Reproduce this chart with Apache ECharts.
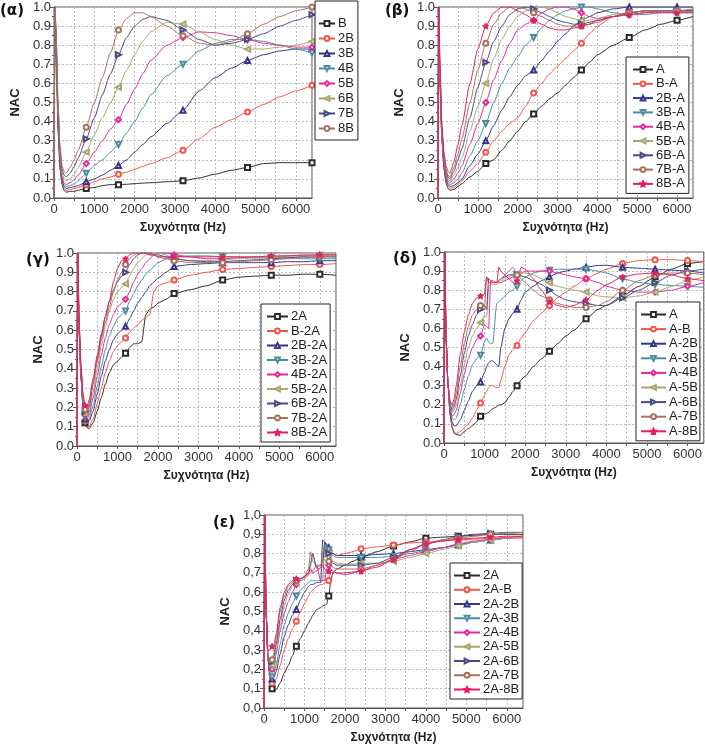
<!DOCTYPE html>
<html><head><meta charset="utf-8">
<script src="https://cdn.jsdelivr.net/npm/echarts@6/dist/echarts.min.js"></script>
<style>html,body{margin:0;padding:0;background:#fff}#c{width:705px;height:747px}</style>
</head><body><div id="c"></div><script>
// ---------- Panel (α) ----------
const freqA = [0,25,60,100,150,200,250,300,400,500,600,800,1000,1200,1400,1600,1800,2000,2200,2400,2800,3200,3600,4000,4400,4800,5200,5600,6000,6400];
const markA = [800,1600,3200,4800,6400];
const namesA = ['B','2B','3B','4B','5B','6B','7B','8B'];
const a_B  = [0,0.98,0.7,0.35,0.15,0.07,0.04,0.03,0.035,0.035,0.04,0.05,0.055,0.065,0.07,0.07,0.072,0.075,0.078,0.08,0.085,0.09,0.105,0.125,0.145,0.16,0.18,0.185,0.185,0.185];
const a_2B = [0,1.0,0.72,0.38,0.17,0.08,0.05,0.04,0.045,0.05,0.055,0.07,0.085,0.1,0.11,0.125,0.135,0.15,0.165,0.18,0.21,0.25,0.31,0.37,0.41,0.45,0.49,0.53,0.56,0.59];
const a_3B = [0,1.0,0.74,0.4,0.18,0.09,0.06,0.05,0.055,0.06,0.065,0.085,0.1,0.12,0.145,0.17,0.2,0.24,0.28,0.32,0.39,0.46,0.56,0.63,0.68,0.72,0.75,0.77,0.78,0.78];
const a_4B = [0,1.0,0.75,0.42,0.2,0.1,0.07,0.06,0.065,0.075,0.09,0.13,0.17,0.2,0.24,0.28,0.34,0.4,0.47,0.54,0.64,0.70,0.77,0.81,0.83,0.83,0.82,0.8,0.78,0.76];
const a_5B = [0,1.0,0.76,0.44,0.21,0.11,0.08,0.07,0.08,0.095,0.12,0.18,0.24,0.3,0.36,0.41,0.49,0.57,0.65,0.72,0.8,0.84,0.87,0.865,0.85,0.83,0.81,0.8,0.79,0.79];
const a_6B = [0,1.0,0.78,0.46,0.23,0.13,0.1,0.09,0.1,0.125,0.16,0.24,0.33,0.42,0.5,0.58,0.67,0.75,0.82,0.87,0.92,0.91,0.87,0.83,0.8,0.78,0.78,0.79,0.8,0.82];
const a_7B = [0,1.0,0.8,0.48,0.25,0.15,0.12,0.11,0.13,0.165,0.21,0.31,0.42,0.54,0.65,0.75,0.84,0.9,0.935,0.95,0.93,0.88,0.83,0.8,0.81,0.83,0.86,0.9,0.93,0.96];
const a_8B = [0,1.0,0.82,0.5,0.27,0.17,0.14,0.13,0.16,0.2,0.25,0.37,0.5,0.63,0.76,0.88,0.94,0.97,0.97,0.95,0.9,0.85,0.81,0.8,0.82,0.86,0.91,0.95,0.98,1.0];

// ---------- Panel (β) ----------
const freqB = [0,20,50,100,150,200,250,300,400,500,600,800,1000,1200,1400,1600,1800,2000,2200,2400,2600,2800,3000,3200,3400,3600,3800,4000,4400,4800,5200,5600,6000,6400];
const markB = [1200,2400,3600,4800,6000];
const namesB = ['A','B-A','2B-A','3B-A','4B-A','5B-A','6B-A','7B-A','8B-A'];
const b_A   = [0,0.95,0.6,0.3,0.15,0.08,0.05,0.04,0.045,0.06,0.075,0.11,0.14,0.18,0.2,0.25,0.3,0.35,0.4,0.44,0.48,0.52,0.55,0.59,0.63,0.67,0.71,0.75,0.8,0.84,0.88,0.91,0.93,0.95];
const b_BA  = [0,1.0,0.6,0.3,0.16,0.09,0.06,0.05,0.055,0.07,0.09,0.14,0.18,0.24,0.3,0.35,0.39,0.42,0.48,0.55,0.6,0.65,0.69,0.73,0.77,0.81,0.86,0.9,0.95,0.97,0.98,0.98,0.98,0.98];
const b_2BA = [0,1.0,0.6,0.3,0.17,0.1,0.07,0.06,0.065,0.08,0.1,0.17,0.23,0.3,0.38,0.46,0.53,0.59,0.64,0.67,0.72,0.77,0.82,0.86,0.9,0.93,0.95,0.97,0.99,1.0,1.0,1.0,1.0,1.0];
const b_3BA = [0,1.0,0.6,0.3,0.18,0.11,0.08,0.07,0.08,0.1,0.13,0.22,0.3,0.39,0.5,0.6,0.68,0.74,0.8,0.84,0.89,0.93,0.96,0.98,0.99,1.0,1.0,0.99,0.97,0.96,0.96,0.97,0.97,0.97];
const b_4BA = [0,1.0,0.62,0.32,0.19,0.12,0.09,0.08,0.1,0.13,0.17,0.28,0.39,0.5,0.62,0.72,0.81,0.88,0.91,0.93,0.97,0.99,1.0,1.0,0.99,0.97,0.95,0.94,0.95,0.96,0.97,0.98,0.98,0.98];
const b_5BA = [0,1.0,0.62,0.32,0.2,0.13,0.1,0.09,0.12,0.16,0.21,0.35,0.48,0.6,0.73,0.83,0.9,0.95,0.98,0.99,1.0,0.99,0.97,0.95,0.94,0.93,0.93,0.94,0.96,0.97,0.98,0.98,0.98,0.98];
const b_6BA = [0,1.0,0.64,0.34,0.21,0.14,0.11,0.1,0.14,0.2,0.26,0.42,0.58,0.71,0.82,0.9,0.96,0.99,1.0,0.99,0.97,0.95,0.93,0.92,0.91,0.91,0.92,0.93,0.95,0.97,0.98,0.98,0.98,0.98];
const b_7BA = [0,1.0,0.66,0.36,0.22,0.15,0.12,0.11,0.16,0.23,0.31,0.5,0.67,0.81,0.91,0.97,1.0,1.0,0.99,0.97,0.95,0.93,0.91,0.9,0.9,0.9,0.91,0.92,0.95,0.97,0.98,0.98,0.98,0.99];
const b_8BA = [0,1.0,0.7,0.38,0.24,0.17,0.14,0.13,0.19,0.28,0.38,0.6,0.78,0.9,0.97,1.0,1.0,0.98,0.96,0.93,0.91,0.89,0.88,0.88,0.89,0.9,0.91,0.93,0.95,0.96,0.97,0.97,0.97,0.97];

// ---------- Panel (γ) ----------
const freqG = [0,20,50,100,150,200,250,300,400,500,600,700,800,900,1000,1100,1200,1300,1400,1500,1600,1700,1800,1900,2000,2200,2400,2800,3200,3600,4000,4400,4800,5200,5600,6000,6400];
const markG = [200,1200,2400,3600,4800,6000];
const namesG = ['2A','B-2A','2B-2A','3B-2A','4B-2A','5B-2A','6B-2A','7B-2A','8B-2A'];
const g_2A   = [0,0.98,0.6,0.35,0.2,0.12,0.095,0.09,0.12,0.18,0.25,0.32,0.38,0.42,0.44,0.46,0.48,0.51,0.53,0.53,0.54,0.68,0.71,0.72,0.74,0.76,0.79,0.81,0.83,0.86,0.875,0.88,0.885,0.885,0.89,0.89,0.885];
const g_B2A  = [0,1.0,0.6,0.35,0.2,0.13,0.1,0.1,0.14,0.22,0.3,0.38,0.44,0.49,0.52,0.54,0.56,0.59,0.61,0.63,0.65,0.67,0.68,0.8,0.83,0.845,0.86,0.885,0.9,0.915,0.92,0.925,0.93,0.935,0.94,0.94,0.945];
const g_2B2A = [0,1.0,0.6,0.35,0.2,0.14,0.12,0.13,0.18,0.27,0.36,0.44,0.5,0.55,0.58,0.6,0.62,0.66,0.7,0.74,0.77,0.8,0.83,0.85,0.87,0.9,0.93,0.94,0.945,0.95,0.95,0.95,0.95,0.955,0.955,0.96,0.96];
const g_3B2A = [0,1.0,0.62,0.36,0.21,0.15,0.13,0.14,0.21,0.31,0.41,0.5,0.57,0.62,0.66,0.68,0.7,0.75,0.79,0.83,0.86,0.89,0.91,0.93,0.95,0.97,0.98,0.985,0.985,0.98,0.98,0.975,0.975,0.975,0.97,0.97,0.97];
const g_4B2A = [0,1.0,0.62,0.37,0.22,0.16,0.14,0.16,0.25,0.36,0.47,0.56,0.63,0.68,0.72,0.74,0.76,0.8,0.85,0.89,0.92,0.95,0.97,0.99,1.0,1.0,0.99,0.98,0.97,0.97,0.975,0.98,0.98,0.985,0.985,0.99,0.99];
const g_5B2A = [0,1.0,0.63,0.38,0.23,0.17,0.15,0.18,0.28,0.4,0.52,0.62,0.7,0.76,0.8,0.82,0.84,0.88,0.92,0.95,0.97,0.99,1.0,1.0,1.0,0.99,0.97,0.96,0.96,0.965,0.97,0.975,0.98,0.985,0.985,0.99,0.99];
const g_6B2A = [0,1.0,0.64,0.39,0.24,0.18,0.16,0.2,0.32,0.45,0.57,0.67,0.75,0.81,0.85,0.88,0.9,0.94,0.97,0.99,1.0,1.0,1.0,0.99,0.99,0.98,0.97,0.96,0.955,0.955,0.96,0.965,0.97,0.975,0.98,0.98,0.98];
const g_7B2A = [0,1.0,0.65,0.4,0.25,0.19,0.18,0.22,0.33,0.44,0.55,0.64,0.72,0.8,0.86,0.9,0.94,0.97,0.99,1.0,1.0,1.0,0.99,0.99,0.98,0.97,0.96,0.95,0.95,0.95,0.955,0.96,0.965,0.97,0.975,0.98,0.98];
const g_8B2A = [0,1.0,0.66,0.42,0.27,0.21,0.2,0.24,0.35,0.47,0.58,0.67,0.75,0.85,0.92,0.96,0.97,0.99,1.0,1.0,1.0,1.0,0.99,0.99,0.98,0.98,0.98,0.98,0.98,0.98,0.98,0.98,0.985,0.985,0.99,0.99,0.99];

// ---------- Panel (δ) ----------
const freqD = [0,20,50,100,150,200,250,300,400,500,600,700,800,900,1000,1050,1100,1150,1200,1300,1350,1400,1500,1600,1700,1800,1900,2000,2200,2400,2600,2800,3000,3200,3500,3800,4000,4400,4800,5200,5600,6000,6400];
const markD = [900,1800,2600,3500,4400,5200,6000];
const namesD = ['A','A-B','A-2B','A-3B','A-4B','A-5B','A-6B','A-7B','A-8B'];
const d_A   = [0,0.95,0.55,0.3,0.15,0.08,0.05,0.045,0.04,0.06,0.075,0.09,0.11,0.14,0.15,0.155,0.16,0.17,0.18,0.19,0.2,0.2,0.21,0.24,0.27,0.3,0.33,0.35,0.4,0.44,0.48,0.52,0.56,0.59,0.65,0.7,0.72,0.77,0.82,0.87,0.91,0.94,0.95];
const d_AB  = [0,1.0,0.55,0.3,0.15,0.09,0.06,0.05,0.06,0.08,0.1,0.13,0.17,0.21,0.25,0.27,0.29,0.3,0.3,0.29,0.29,0.33,0.4,0.46,0.49,0.51,0.55,0.58,0.64,0.68,0.72,0.76,0.79,0.82,0.86,0.89,0.91,0.94,0.955,0.96,0.96,0.955,0.95];
const d_A2B = [0,1.0,0.55,0.3,0.16,0.11,0.09,0.09,0.12,0.17,0.22,0.27,0.3,0.32,0.37,0.4,0.42,0.43,0.43,0.41,0.4,0.5,0.6,0.65,0.68,0.7,0.75,0.79,0.82,0.85,0.87,0.89,0.9,0.91,0.92,0.93,0.93,0.92,0.915,0.91,0.905,0.9,0.89];
const d_A3B = [0,1.0,0.55,0.3,0.17,0.13,0.12,0.13,0.2,0.28,0.35,0.41,0.44,0.46,0.53,0.55,0.53,0.52,0.52,0.73,0.74,0.75,0.77,0.79,0.8,0.82,0.85,0.87,0.89,0.9,0.905,0.91,0.91,0.91,0.91,0.9,0.89,0.86,0.84,0.83,0.825,0.82,0.815];
const d_A4B = [0,1.0,0.55,0.3,0.18,0.14,0.15,0.17,0.26,0.36,0.44,0.5,0.54,0.56,0.62,0.61,0.6,0.85,0.85,0.84,0.84,0.84,0.85,0.86,0.87,0.88,0.89,0.9,0.9,0.9,0.9,0.89,0.88,0.87,0.86,0.84,0.82,0.8,0.79,0.79,0.8,0.82,0.84];
const d_A5B = [0,1.0,0.55,0.3,0.19,0.16,0.17,0.2,0.3,0.41,0.5,0.56,0.6,0.63,0.67,0.66,0.82,0.83,0.83,0.83,0.84,0.85,0.86,0.87,0.88,0.885,0.89,0.89,0.88,0.86,0.84,0.82,0.81,0.8,0.79,0.77,0.765,0.76,0.77,0.79,0.82,0.85,0.87];
const d_A6B = [0,1.0,0.55,0.3,0.2,0.17,0.19,0.23,0.35,0.47,0.56,0.62,0.67,0.7,0.72,0.7,0.86,0.85,0.84,0.84,0.85,0.86,0.87,0.88,0.88,0.88,0.875,0.87,0.85,0.83,0.8,0.77,0.75,0.74,0.73,0.72,0.72,0.76,0.8,0.84,0.88,0.9,0.91];
const d_A7B = [0,1.0,0.55,0.3,0.21,0.18,0.21,0.26,0.4,0.52,0.61,0.67,0.7,0.72,0.71,0.87,0.86,0.85,0.84,0.84,0.85,0.86,0.88,0.9,0.92,0.88,0.86,0.84,0.8,0.77,0.75,0.73,0.72,0.71,0.71,0.72,0.74,0.8,0.85,0.88,0.89,0.89,0.88];
const d_A8B = [0,1.0,0.55,0.3,0.22,0.2,0.23,0.3,0.46,0.58,0.67,0.73,0.76,0.77,0.78,0.87,0.84,0.84,0.84,0.84,0.92,0.9,0.88,0.86,0.84,0.85,0.92,0.91,0.86,0.8,0.74,0.72,0.71,0.72,0.75,0.8,0.83,0.87,0.885,0.89,0.88,0.86,0.85];

// ---------- Panel (ε) ----------
const freqE = [0,20,50,100,150,200,250,300,400,500,600,700,800,900,1000,1100,1150,1200,1300,1400,1450,1500,1550,1600,1650,1700,1800,2000,2200,2400,2800,3200,3600,4000,4400,4800,5200,5600,6000,6400];
const markE = [200,800,1600,2400,3200,4000,4800,5600];
const namesE = ['2A','2A-B','2A-2B','2A-3B','2A-4B','2A-5B','2A-6B','2A-7B','2A-8B'];
const e_2A   = [0,1.0,0.5,0.25,0.15,0.1,0.09,0.095,0.13,0.18,0.22,0.27,0.32,0.36,0.4,0.44,0.46,0.48,0.51,0.52,0.53,0.53,0.54,0.58,0.66,0.7,0.72,0.74,0.76,0.78,0.81,0.84,0.86,0.88,0.885,0.89,0.895,0.9,0.9,0.9];
const e_2AB  = [0,1.0,0.5,0.25,0.16,0.13,0.13,0.15,0.22,0.3,0.36,0.41,0.45,0.5,0.54,0.58,0.6,0.61,0.63,0.64,0.64,0.65,0.65,0.66,0.82,0.8,0.79,0.8,0.81,0.825,0.835,0.845,0.855,0.86,0.865,0.87,0.875,0.88,0.88,0.88];
const e_2A2B = [0,1.0,0.5,0.25,0.17,0.15,0.16,0.19,0.28,0.37,0.43,0.48,0.51,0.56,0.6,0.63,0.64,0.64,0.65,0.65,0.87,0.86,0.85,0.83,0.81,0.8,0.79,0.79,0.79,0.79,0.795,0.8,0.81,0.82,0.83,0.845,0.86,0.87,0.88,0.89];
const e_2A3B = [0,1.0,0.5,0.25,0.18,0.16,0.18,0.22,0.33,0.43,0.49,0.54,0.58,0.61,0.63,0.65,0.66,0.66,0.66,0.66,0.66,0.86,0.84,0.82,0.8,0.79,0.78,0.78,0.78,0.78,0.78,0.785,0.8,0.815,0.83,0.845,0.86,0.87,0.88,0.89];
const e_2A4B = [0,1.0,0.5,0.25,0.2,0.2,0.23,0.28,0.4,0.49,0.55,0.6,0.64,0.66,0.67,0.69,0.7,0.71,0.74,0.66,0.66,0.66,0.72,0.74,0.72,0.71,0.7,0.69,0.7,0.71,0.74,0.77,0.79,0.81,0.83,0.85,0.865,0.875,0.885,0.89];
const e_2A5B = [0,1.0,0.5,0.25,0.21,0.22,0.25,0.3,0.43,0.53,0.59,0.63,0.65,0.67,0.68,0.7,0.73,0.8,0.72,0.72,0.73,0.85,0.83,0.8,0.78,0.76,0.75,0.745,0.745,0.75,0.75,0.76,0.78,0.8,0.82,0.84,0.86,0.87,0.88,0.885];
const e_2A6B = [0,1.0,0.5,0.25,0.22,0.24,0.27,0.33,0.46,0.56,0.61,0.64,0.66,0.67,0.68,0.7,0.75,0.8,0.73,0.74,0.76,0.86,0.84,0.8,0.77,0.75,0.74,0.74,0.74,0.74,0.75,0.78,0.82,0.85,0.87,0.89,0.9,0.905,0.91,0.91];
const e_2A7B = [0,1.0,0.5,0.25,0.23,0.25,0.29,0.36,0.5,0.58,0.63,0.65,0.66,0.67,0.68,0.72,0.81,0.76,0.74,0.74,0.8,0.84,0.8,0.76,0.74,0.73,0.72,0.72,0.72,0.72,0.74,0.77,0.81,0.85,0.87,0.88,0.89,0.9,0.905,0.91];
const e_2A8B = [0,1.0,0.5,0.3,0.3,0.32,0.33,0.38,0.52,0.6,0.64,0.66,0.67,0.67,0.68,0.7,0.72,0.7,0.71,0.73,0.74,0.72,0.71,0.71,0.7,0.7,0.7,0.7,0.705,0.71,0.73,0.77,0.82,0.85,0.865,0.875,0.88,0.885,0.89,0.89];

// ---------- styles ----------
const COLORS = ['#2b2b2b','#f0564c','#35358c','#4d8c9e','#e42a98','#a8a66c','#4a4a84','#a8725f','#e6205c'];
const STAR = 'path://M0,-10L2.9,-4L9.5,-3.1L4.7,1.5L5.9,8.1L0,5L-5.9,8.1L-4.7,1.5L-9.5,-3.1L-2.9,-4Z';
const SYMS = [
  {s:'emptyRect',r:0},{s:'emptyCircle',r:0},{s:'emptyTriangle',r:0},{s:'emptyTriangle',r:180},
  {s:'emptyDiamond',r:0},{s:'emptyTriangle',r:90},{s:'emptyTriangle',r:-90},{s:'emptyCircle',r:0},{s:STAR,r:0}
];
const FONT = 'Liberation Sans, Arial, sans-serif';

const panels = [
  {label:'(α)', lab:[0,4], freq:freqA, marks:markA, names:namesA, vals:[a_B,a_2B,a_3B,a_4B,a_5B,a_6B,a_7B,a_8B],
   grid:{left:54,top:7,width:258,height:191}, leg:{left:315,top:1,itemWidth:16,padding:[16,4,5,3],itemGap:2}, comma:false},
  {label:'(β)', lab:[385,4], freq:freqB, marks:markB, names:namesB, vals:[b_A,b_BA,b_2BA,b_3BA,b_4BA,b_5BA,b_6BA,b_7BA,b_8BA],
   grid:{left:438,top:7,width:255,height:191}, leg:{left:626,top:57,itemWidth:20,padding:[6,4,3,6],itemGap:1.3}, comma:false},
  {label:'(γ)', lab:[26,253], freq:freqG, marks:markG, names:namesG, vals:[g_2A,g_B2A,g_2B2A,g_3B2A,g_4B2A,g_5B2A,g_6B2A,g_7B2A,g_8B2A],
   grid:{left:77,top:253,width:259,height:193}, leg:{left:261,top:304,itemWidth:21,padding:[6,3,3,5],itemGap:1.5}, comma:false},
  {label:'(δ)', lab:[393,252], freq:freqD, marks:markD, names:namesD, vals:[d_A,d_AB,d_A2B,d_A3B,d_A4B,d_A5B,d_A6B,d_A7B,d_A8B],
   grid:{left:444,top:252,width:264,height:191}, leg:{left:636,top:302,itemWidth:25,padding:[6,2,3,4],itemGap:1.6}, comma:false},
  {label:'(ε)', lab:[213,516], freq:freqE, marks:markE, names:namesE, vals:[e_2A,e_2AB,e_2A2B,e_2A3B,e_2A4B,e_2A5B,e_2A6B,e_2A7B,e_2A8B],
   grid:{left:264,top:515,width:259,height:193}, leg:{left:450,top:563,itemWidth:26,padding:[6,3,3,3],itemGap:1.25}, comma:true}
];

const option = {animation:false, backgroundColor:'#fff', title:[], grid:[], xAxis:[], yAxis:[], legend:[], series:[]};
panels.forEach((p,pi)=>{
  option.title.push({text:p.label, left:p.lab[0], top:p.lab[1], padding:0,
    textStyle:{fontFamily:'DejaVu Sans, sans-serif', fontWeight:'bold', fontSize:15, color:'#111'}});
  option.grid.push(Object.assign({show:true, borderColor:'#555', borderWidth:1, backgroundColor:'#fff'}, p.grid));
  option.xAxis.push({type:'value', gridIndex:pi, min:0, max:6400, interval:500,
    name:'Συχνότητα (Hz)', nameLocation:'middle', nameGap:24,
    nameTextStyle:{fontFamily:FONT, fontWeight:'bold', fontSize:12, color:'#222'},
    axisLine:{show:true, onZero:false, lineStyle:{color:'#555'}},
    axisTick:{show:true, inside:false, length:3, lineStyle:{color:'#555'}},
    axisLabel:{fontFamily:FONT, fontSize:13, color:'#333', margin:5, showMaxLabel:false,
      formatter:v=> (v%1000===0 ? String(v) : '')},
    splitLine:{show:true, lineStyle:{color:'#bbb', type:[2,2], width:1}}});
  option.yAxis.push({type:'value', gridIndex:pi, min:0, max:1, interval:0.1,
    name:'NAC', nameLocation:'middle', nameGap:32, nameRotate:90,
    nameTextStyle:{fontFamily:FONT, fontWeight:'bold', fontSize:13, color:'#222'},
    axisLine:{show:true, onZero:false, lineStyle:{color:'#555'}},
    axisTick:{show:true, inside:false, length:4, lineStyle:{color:'#555'}},
    minorTick:{show:true, splitNumber:2, length:2, lineStyle:{color:'#555'}},
    axisLabel:{fontFamily:FONT, fontSize:13, color:'#333', margin:3,
      formatter:v=>{const t=(Math.round(v*10)/10).toFixed(1); return p.comma? t.replace('.',','):t;}},
    splitLine:{show:true, lineStyle:{color:'#bbb', type:[2,2], width:1}}});
  option.legend.push(Object.assign({orient:'vertical', data:p.names, itemHeight:6,
    borderColor:'#222', borderWidth:1, backgroundColor:'#fff', borderRadius:0,
    textStyle:{fontFamily:FONT, fontSize:13, color:'#222', padding:[0,0,0,-2], lineHeight:13}, selectedMode:false}, p.leg));
  p.names.forEach((nm,si)=>{
    const col = COLORS[si], sy = SYMS[si], vals = p.vals[si];
    option.series.push({type:'line', name:nm, xAxisIndex:pi, yAxisIndex:pi,
      data: p.freq.map((f,i)=> p.marks.includes(f) ? {value:[f, vals[i]]} : {value:[f, vals[i]], symbol:'none'}),
      symbol: sy.s, symbolRotate: sy.r, symbolSize: si===8?6:5, showSymbol:true, showAllSymbol:true,
      smooth:0.2, smoothMonotone:'x', clip:true, silent:true,
      lineStyle:{width:1, color:col}, itemStyle:{color:col, borderColor:col, borderWidth:1},
      emphasis:{disabled:true}});
  });
});
const chart = echarts.init(document.getElementById('c'), null, {renderer:'canvas'});
chart.setOption(option);
</script></body></html>
